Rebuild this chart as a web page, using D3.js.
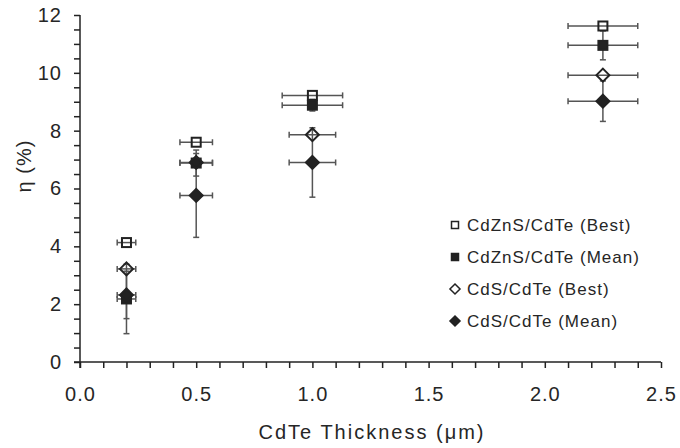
<!DOCTYPE html>
<html>
<head>
<meta charset="utf-8">
<script src="https://cdn.jsdelivr.net/npm/d3@7/dist/d3.min.js"></script>
<style>
  body { margin: 0; background: #fff; }
  text { font-family: "Liberation Sans", Arial, sans-serif; fill: #262626; }
</style>
</head>
<body>
<div id="chart"></div>
<script>
// thickness values (um) and series
var thickness = [0.2, 0.5, 1.0, 2.25];

var cdznsBest = [4.13, 7.6, 9.22, 11.62];
var cdznsBestXErr = [0.04, 0.07, 0.13, 0.15];

var cdznsMean = [2.18, 6.88, 8.88, 10.95];
var cdznsMeanYErr = [1.2, 0.45, 0.2, 0.5];
var cdznsMeanXErr = [0.04, 0.07, 0.13, 0.15];

var cdsBest = [3.22, 6.9, 7.86, 9.92];
var cdsBestXErr = [0.04, 0.07, 0.1, 0.15];

var cdsMean = [2.32, 5.76, 6.9, 9.02];
var cdsMeanYErr = [0.82, 1.45, 1.2, 0.7];
var cdsMeanXErr = [0.04, 0.07, 0.1, 0.15];

var xTicks = [0, 0.5, 1.0, 1.5, 2.0, 2.5];
var yTicks = [0, 2, 4, 6, 8, 10, 12];

var seriesNames = ["CdZnS/CdTe (Best)", "CdZnS/CdTe (Mean)", "CdS/CdTe (Best)", "CdS/CdTe (Mean)"];

var width = 680, height = 448;
var margin = {top: 15, right: 19, bottom: 86, left: 80};

var svg = d3.select("#chart").append("svg")
    .attr("width", width)
    .attr("height", height);

var x = d3.scaleLinear().domain([0, 2.5]).range([margin.left, width - margin.right]);
var y = d3.scaleLinear().domain([0, 12]).range([height - margin.bottom, margin.top]);

var axisColor = "#222";

// minor x ticks every 0.1
svg.append("g")
    .attr("transform", "translate(0," + y(0) + ")")
    .call(d3.axisBottom(x).tickValues(d3.range(0, 2.501, 0.1)).tickSize(6).tickFormat(""))
    .call(function(g) {
      g.select(".domain").remove();
      g.selectAll("line").attr("stroke", axisColor).attr("stroke-width", 1.5);
    });

// x axis labels
svg.append("g")
    .attr("transform", "translate(0," + y(0) + ")")
    .call(d3.axisBottom(x).tickValues(xTicks).tickSize(0).tickPadding(25).tickFormat(d3.format(".1f")))
    .call(function(g) {
      g.select(".domain").remove();
      g.selectAll("text").style("font-size", "20px").style("letter-spacing", "1px").attr("fill", "#262626");
    });

// minor y ticks every 0.5
svg.append("g")
    .attr("transform", "translate(" + x(0) + ",0)")
    .call(d3.axisLeft(y).tickValues(d3.range(0, 12.01, 0.5)).tickSize(6).tickFormat(""))
    .call(function(g) {
      g.select(".domain").remove();
      g.selectAll("line").attr("stroke", axisColor).attr("stroke-width", 1.5);
    });

svg.append("g")
    .attr("transform", "translate(" + x(0) + ",0)")
    .call(d3.axisLeft(y).tickValues(yTicks).tickSize(0).tickPadding(18).tickFormat(d3.format("d")))
    .call(function(g) {
      g.select(".domain").remove();
      g.selectAll("text").style("font-size", "20px").style("letter-spacing", "1px").attr("fill", "#262626");
    });

// axis lines
svg.append("line")
    .attr("x1", x(0) - 6).attr("x2", x(2.5))
    .attr("y1", y(0)).attr("y2", y(0))
    .attr("stroke", axisColor).attr("stroke-width", 1.5);
svg.append("line")
    .attr("x1", x(0)).attr("x2", x(0))
    .attr("y1", y(12)).attr("y2", y(0) + 6)
    .attr("stroke", axisColor).attr("stroke-width", 1.5);

// axis titles
svg.append("text")
    .attr("x", 372)
    .attr("y", 439)
    .attr("text-anchor", "middle")
    .style("font-size", "20px")
    .style("letter-spacing", "2px")
    .text("CdTe Thickness (\u03bcm)");

svg.append("text")
    .attr("transform", "translate(31,166) rotate(-90)")
    .attr("text-anchor", "middle")
    .style("font-size", "20px")
    .style("letter-spacing", "1px")
    .text("\u03b7 (%)");

var series = [
  {name: seriesNames[0], vals: cdznsBest, xerr: cdznsBestXErr, yerr: null, shape: "square", filled: false},
  {name: seriesNames[1], vals: cdznsMean, xerr: cdznsMeanXErr, yerr: cdznsMeanYErr, shape: "square", filled: true},
  {name: seriesNames[2], vals: cdsBest, xerr: cdsBestXErr, yerr: null, shape: "diamond", filled: false},
  {name: seriesNames[3], vals: cdsMean, xerr: cdsMeanXErr, yerr: cdsMeanYErr, shape: "diamond", filled: true}
];

var errColor = "#555", cap = 3;
var errG = svg.append("g");

series.forEach(function(s) {
  thickness.forEach(function(t, i) {
    var v = s.vals[i];
    // x error
    var xl = x(t - s.xerr[i]), xr = x(t + s.xerr[i]), yy = y(v);
    errG.append("line").attr("x1", xl).attr("x2", xr).attr("y1", yy).attr("y2", yy)
        .attr("stroke", errColor).attr("stroke-width", 1.5);
    [xl, xr].forEach(function(xx) {
      errG.append("line").attr("x1", xx).attr("x2", xx).attr("y1", yy - cap).attr("y2", yy + cap)
          .attr("stroke", errColor).attr("stroke-width", 1.5);
    });
    if (s.yerr) {
      var yt = y(v + s.yerr[i]), yb = y(v - s.yerr[i]), xx = x(t);
      errG.append("line").attr("x1", xx).attr("x2", xx).attr("y1", yt).attr("y2", yb)
          .attr("stroke", errColor).attr("stroke-width", 1.5);
      [yt, yb].forEach(function(y2) {
        errG.append("line").attr("x1", xx - cap).attr("x2", xx + cap).attr("y1", y2).attr("y2", y2)
            .attr("stroke", errColor).attr("stroke-width", 1.5);
      });
    }
  });
});

function marker(g, shape, filled, cx, cy, size) {
  var m;
  if (shape === "square") {
    m = g.append("rect")
        .attr("x", cx - size / 2).attr("y", cy - size / 2)
        .attr("width", size).attr("height", size);
  } else {
    var r = size * 0.72;
    m = g.append("path")
        .attr("d", "M" + cx + "," + (cy - r) + "L" + (cx + r) + "," + cy + "L" + cx + "," + (cy + r) + "L" + (cx - r) + "," + cy + "Z");
  }
  m.attr("fill", filled ? "#222" : "none")
   .attr("stroke", "#222")
   .attr("stroke-width", 2);
  return m;
}

var markG = svg.append("g");
series.forEach(function(s) {
  thickness.forEach(function(t, i) {
    marker(markG, s.shape, s.filled, x(t), y(s.vals[i]), 9);
  });
});

// legend
var legend = svg.append("g");
series.forEach(function(s, i) {
  var ly = 225 + i * 32;
  marker(legend, s.shape, s.filled, 455, ly, 7).attr("stroke-width", 1.5);
  legend.append("text")
      .attr("x", 467)
      .attr("y", ly)
      .attr("dy", "0.35em")
      .style("font-size", "17px")
      .style("letter-spacing", "1px")
      .text(s.name);
});
</script>
</body>
</html>
